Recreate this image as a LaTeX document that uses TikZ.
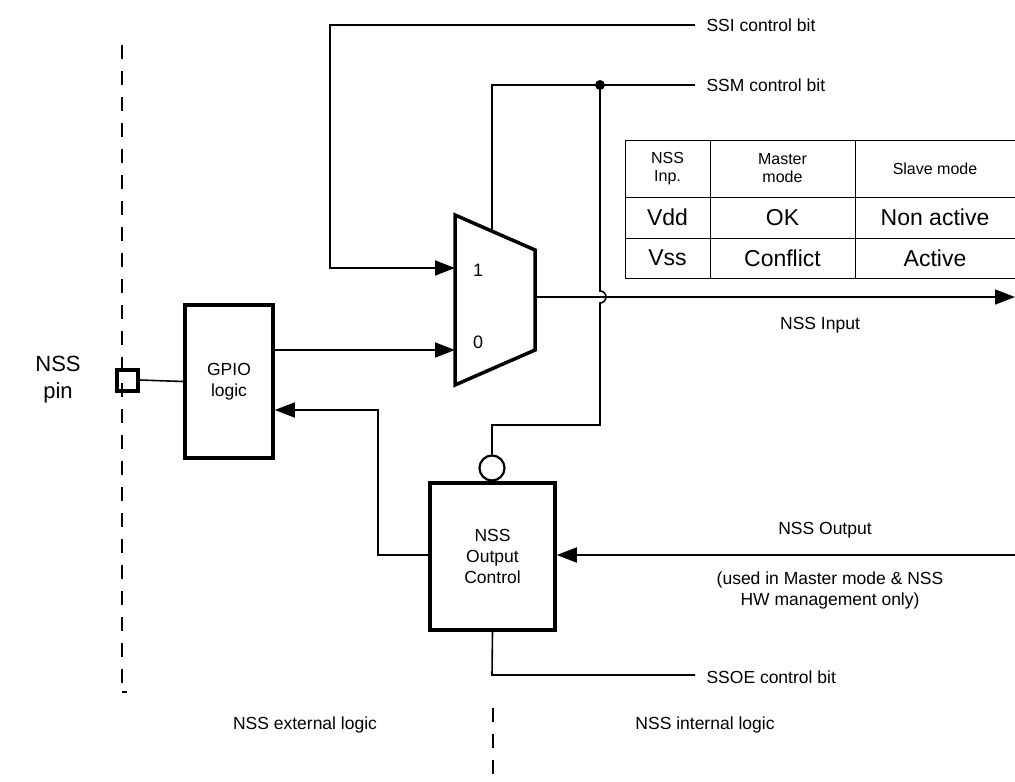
\documentclass[tikz,border=0pt]{standalone}
\usepackage{fontspec}
\setmainfont{Liberation Sans}
\usetikzlibrary{arrows.meta}
\begin{document}
\begin{tikzpicture}[x=1pt,y=-1pt,
  lbl/.style={font=\fontsize{17.5}{21}\selectfont,align=center},
  box/.style={draw,line width=3.5pt,align=center,font=\fontsize{17.5}{21}\selectfont,inner sep=0pt},
  ln/.style={line width=1.6pt},
  arr/.style={ln,-{Triangle[length=20pt,width=15pt]}},
  dsh/.style={line width=1.8pt,dash pattern=on 14pt off 12pt}]
\useasboundingbox (0,0) rectangle (1015,782);
% dashed boundaries
\coordinate (d1a) at (122,45); \coordinate (d1b) at (122,692);
\draw[dsh] (d1a) -- (d1b);
\coordinate (d1c) at (127,692);
\draw[line width=1.8pt] (d1b) -- (d1c);
\coordinate (d2a) at (493,708); \coordinate (d2b) at (493,782);
\draw[dsh] (d2a) -- (d2b);
% pin
\node[font=\fontsize{22}{27}\selectfont,align=center] (pinlbl) at (58,380) {NSS\\pin};
\node[draw,line width=4pt,minimum size=21pt,inner sep=0pt] (pin) at (127,380) {};
% GPIO
\node[box,minimum width=88pt,minimum height=153pt] (gpio) at (229,381.5) {GPIO\\logic};
\draw[ln] (pin.east) -- (gpio.west);
% mux
\coordinate (m1) at (455,215); \coordinate (m2) at (535,250);
\coordinate (m3) at (535,350); \coordinate (m4) at (455,385);
\draw[line width=3.5pt,line join=miter] (m1) -- (m2) -- (m3) -- (m4) -- cycle;
\node[lbl,font=\fontsize{18}{21}\selectfont] (one) at (478,270) {1};
\node[lbl,font=\fontsize{18}{21}\selectfont] (zero) at (478,342) {0};
\coordinate (in1) at (455,268); \coordinate (in0) at (455,350);
\draw[arr] (gpio.east |- in0) -- (in0);
% SSI
\node[lbl,anchor=west] (ssi) at (703,25) {SSI control bit};
\coordinate (s1) at (330,25); \coordinate (s2) at (330,268);
\draw[arr] (695,25) -- (s1) -- (s2) -- (in1);
% SSM
\node[lbl,anchor=west] (ssm) at (703,85) {SSM control bit};
\coordinate (t1) at (492,85); \coordinate (t2) at (492,230);
\coordinate (dot) at (600,85);
\draw[ln] (695,85) -- (t1) -- (t2);
\fill (dot) circle (5pt);
% NSS output control
\node[box,minimum width=125pt,minimum height=147pt] (oc) at (492.5,556.5) {NSS\\Output\\Control};
\node[draw,circle,line width=2.2pt,minimum size=25pt,inner sep=0pt] (bub) at (492,468) {};
\coordinate (c1) at (600,425); \coordinate (c2) at (492,425);
\draw[ln] (dot) -- (600,291) arc (90:-90:6pt) -- (c1) -- (c2) -- (bub.north);
% mux output
\coordinate (o1) at (535,297); \coordinate (o2) at (1015,297);
\draw[arr] (o1) -- (o2);
\node[lbl] (nssin) at (820,325) {NSS Input};
% output control to gpio
\coordinate (g1) at (378,555); \coordinate (g2) at (378,410);
\draw[arr] (oc.west |- g1) -- (g1) -- (g2) -- (gpio.east |- g2);
% NSS output
\coordinate (no) at (1015,555);
\draw[arr] (no) -- (oc.east |- no);
\node[lbl] (nssout) at (825,530) {NSS Output};
\node[lbl] (used) at (830,590) {(used in Master mode \& NSS\\HW management only)};
% SSOE
\coordinate (e1) at (492,675);
\draw[ln] (oc.south) -- (e1) -- (695,675);
\node[lbl,anchor=west] (ssoe) at (703,677) {SSOE control bit};
% bottom labels
\node[lbl] (ext) at (305,725) {NSS external logic};
\node[lbl] (int) at (705,725) {NSS internal logic};
% table
\draw[line width=0.8pt] (625,140) rectangle (1015,278);
\draw[line width=0.8pt] (625,197) -- (1015,197) (625,238) -- (1015,238)
  (710,140) -- (710,278) (855,140) -- (855,278);
\node[lbl,font=\fontsize{16}{18}\selectfont] (h1) at (667.5,168.5) {NSS\\Inp.};
\node[lbl,font=\fontsize{16}{18}\selectfont] (h2) at (782.5,168.5) {Master\\mode};
\node[lbl,font=\fontsize{16}{18}\selectfont] (h3) at (935,168.5) {Slave mode};
\tikzset{tb/.style={font=\fontsize{23}{27}\selectfont}}
\node[tb] (a1) at (667.5,217.5) {Vdd};
\node[tb] (a2) at (782.5,217.5) {OK};
\node[tb] (a3) at (935,217.5) {Non active};
\node[tb] (b1) at (667.5,258) {Vss};
\node[tb] (b2) at (782.5,258) {Conflict};
\node[tb] (b3) at (935,258) {Active};
\end{tikzpicture}
\end{document}
